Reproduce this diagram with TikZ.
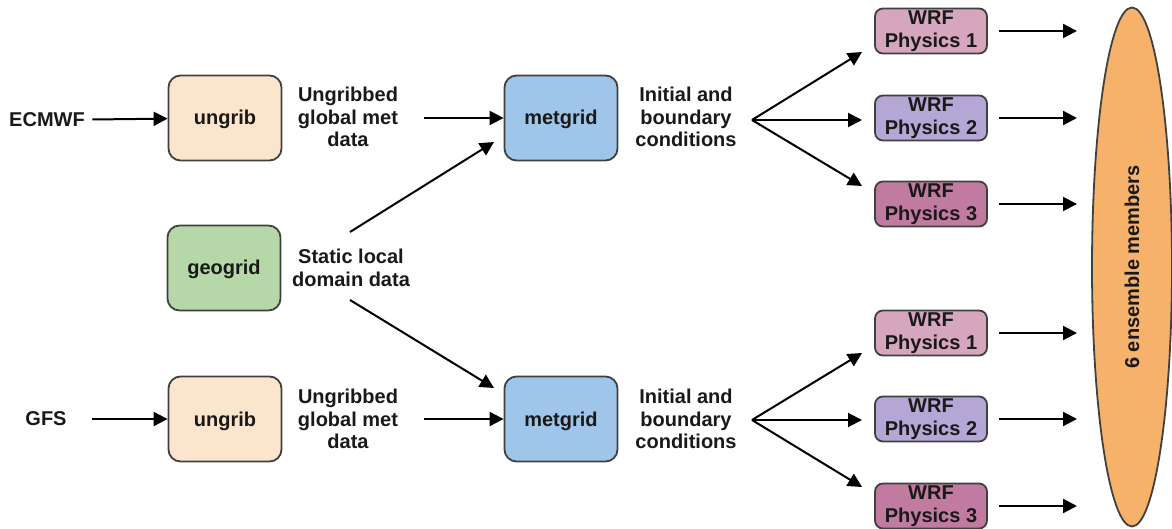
\documentclass[tikz,border=0pt]{standalone}
\usepackage{fontspec}
\setmainfont{Liberation Sans}
\usetikzlibrary{arrows.meta,shapes.geometric}

\definecolor{boxline}{HTML}{404040}
\definecolor{ungribfill}{HTML}{FCE5CD}
\definecolor{metgridfill}{HTML}{9FC5E8}
\definecolor{geogridfill}{HTML}{B6D7A8}
\definecolor{physone}{HTML}{D5A6BD}
\definecolor{phystwo}{HTML}{B4A7D6}
\definecolor{physthree}{HTML}{C27BA0}
\definecolor{ensfill}{HTML}{F6B26B}

\tikzset{
  txt/.style={font=\bfseries\fontsize{20}{22.5}\selectfont, text=black!90},
  lbl/.style={txt, align=center},
  box/.style={txt, draw=boxline, line width=1.8pt, rounded corners=12pt,
    minimum width=113pt, minimum height=85pt, text height=15pt, text depth=1pt},
  wrf/.style={txt, align=center, draw=boxline, line width=1.8pt, rounded corners=8pt,
    minimum width=112pt, minimum height=45pt, inner sep=0pt},
  arr/.style={-{Triangle[length=14pt,width=14pt]}, line width=2pt, black}
}

\begin{document}
\begin{tikzpicture}[x=1pt,y=-1pt]
    \useasboundingbox (0,0) rectangle (1172,529);

    % sources and preprocessing
    \node [lbl] (ecmwf) at (47,120) {ECMWF};
    \node [lbl] (gfs) at (46,419) {GFS};
    \node [box, fill=ungribfill] (ungribA) at (225,118) {ungrib};
    \node [box, fill=ungribfill] (ungribB) at (225,419) {ungrib};
    \node [box, fill=geogridfill] (geogrid) at (224,268) {geogrid};
    \node [lbl] (globA) at (348,117) {Ungribbed\\global met\\data};
    \node [lbl] (globB) at (348,419) {Ungribbed\\global met\\data};
    \node [lbl] (stat) at (351,268) {Static local\\domain data};
    \node [box, fill=metgridfill] (metA) at (561,118) {metgrid};
    \node [box, fill=metgridfill] (metB) at (561,419) {metgrid};
    \node [lbl] (icA) at (686,117) {Initial and\\boundary\\conditions};
    \node [lbl] (icB) at (686,419) {Initial and\\boundary\\conditions};

    % physics members
    \node [wrf, fill=physone] (wA1) at (931,31) {WRF\\Physics 1};
    \node [wrf, fill=phystwo] (wA2) at (931,118) {WRF\\Physics 2};
    \node [wrf, fill=physthree] (wA3) at (931,204) {WRF\\Physics 3};
    \node [wrf, fill=physone] (wB1) at (931,333) {WRF\\Physics 1};
    \node [wrf, fill=phystwo] (wB2) at (931,419) {WRF\\Physics 2};
    \node [wrf, fill=physthree] (wB3) at (931,506) {WRF\\Physics 3};

    \node [txt, ellipse, draw=boxline, line width=1.8pt, fill=ensfill, rotate=90,
      minimum width=519pt, minimum height=80pt, inner sep=0pt] (ens) at (1132,267) {6 ensemble members};

    \coordinate (fanA) at (752,120);
    \coordinate (fanB) at (752,420);
    \coordinate (statup) at (350,232);
    \coordinate (statdn) at (350,300);
    \coordinate (ensl) at (1077,267);

    \draw [arr, shorten <=4pt] (ecmwf) -- (ungribA);
    \draw [arr, shorten <=22pt] (gfs) -- (ungribB);
    \draw [arr, shorten <=22pt] (globA.east |- metA) -- (metA);
    \draw [arr, shorten <=22pt] (globB.east |- metB) -- (metB);
    \draw [arr] (statup) -- (494,142);
    \draw [arr] (statdn) -- (494,388);

    \draw [arr] (fanA) -- (862,52);
    \draw [arr] (fanA) -- (862,120);
    \draw [arr] (fanA) -- (862,186);
    \draw [arr] (fanB) -- (862,353);
    \draw [arr] (fanB) -- (862,420);
    \draw [arr] (fanB) -- (862,487);

    \draw [arr, shorten <=11pt] (wA1.east) -- (wA1.east -| ensl);
    \draw [arr, shorten <=11pt] (wA2.east) -- (wA2.east -| ensl);
    \draw [arr, shorten <=11pt] (wA3.east) -- (wA3.east -| ensl);
    \draw [arr, shorten <=11pt] (wB1.east) -- (wB1.east -| ensl);
    \draw [arr, shorten <=11pt] (wB2.east) -- (wB2.east -| ensl);
    \draw [arr, shorten <=11pt] (wB3.east) -- (wB3.east -| ensl);
\end{tikzpicture}
\end{document}
